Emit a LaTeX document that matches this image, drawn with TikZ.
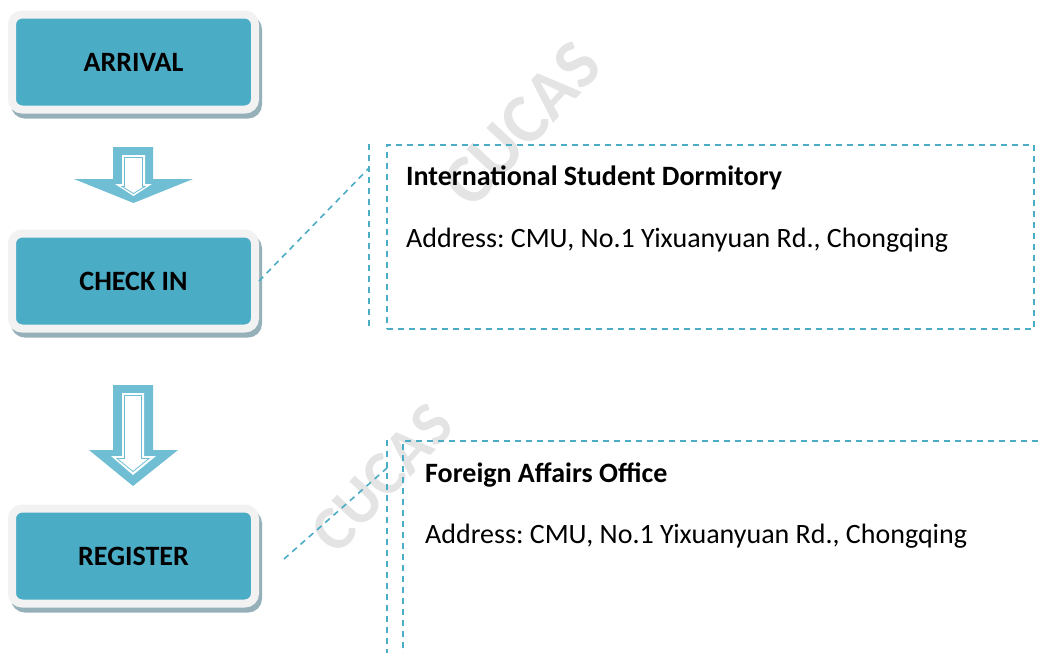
\documentclass[tikz,border=0pt]{standalone}
\usepackage{fontspec}
\setmainfont{Carlito}
\usetikzlibrary{positioning}
\frenchspacing

\definecolor{boxblue}{RGB}{75,172,198}
\definecolor{arrowblue}{RGB}{112,190,211}
\definecolor{framegray}{RGB}{242,242,242}
\definecolor{shadegray}{RGB}{150,176,186}
\definecolor{markgray}{RGB}{228,228,228}

\tikzset{
  stage/.style={rounded corners=10pt, fill=boxblue, draw=framegray, line width=8pt,
    minimum width=243pt, minimum height=95pt, inner sep=0pt,
    text height=18pt, text depth=0pt,
    font=\bfseries\fontsize{28}{32}\selectfont,
    preaction={draw=shadegray, fill=shadegray, line width=8pt,
      transform canvas={shift={(3pt,-5pt)}}}},
  leader/.style={draw=boxblue, line width=1.6pt, dash pattern=on 6pt off 5pt},
  infobox/.style={leader, anchor=north west, inner sep=0pt},
  title/.style={anchor=base west, inner sep=0pt, font=\bfseries\fontsize{28}{32}\selectfont},
  addr/.style={anchor=base west, inner sep=0pt, font=\fontsize{28}{32}\selectfont},
  watermark/.style={text=markgray, inner sep=0pt, rotate=47}
}

\begin{document}
\begin{tikzpicture}[x=1pt,y=-1pt]
    % Canvas
    \useasboundingbox (0,0) rectangle (1038,653);
    % Watermarks
    \node[watermark, font=\bfseries\fontsize{70}{72}\selectfont] (mark1) at (522,124) {CUCAS};
    \node[watermark, font=\bfseries\fontsize{63}{65}\selectfont] (mark2) at (382,478) {CUCAS};
    % Stages
    \node[stage] (arrival)  at (133.5,62)  {ARRIVAL};
    \node[stage] (checkin)  at (133.5,281) {CHECK IN};
    \node[stage] (register) at (133.5,556) {REGISTER};
    % Small arrow
    \fill[arrowblue] (113,147) -- (153,147) -- (153,179) -- (193,179) -- (133.5,203) -- (74,179) -- (113,179) -- cycle;
    \fill[white] (122,155) -- (145,155) -- (145,184) -- (152,184) -- (133.5,196) -- (115,184) -- (122,184) -- cycle;
    \draw[arrowblue,line width=0.8pt] (124.5,157.5) -- (142.5,157.5) -- (142.5,186.5) -- (145,186.5) -- (133.5,193.5) -- (122,186.5) -- (124.5,186.5) -- cycle;
    % Large arrow
    \fill[arrowblue] (113,385) -- (153,385) -- (153,450) -- (178,450) -- (133,486) -- (89,450) -- (113,450) -- cycle;
    \fill[white] (122,393) -- (144,393) -- (144,456) -- (156,456) -- (133,475) -- (111,456) -- (122,456) -- cycle;
    \draw[arrowblue,line width=0.8pt] (124.5,395.5) -- (141.5,395.5) -- (141.5,458.5) -- (149,458.5) -- (133,471.5) -- (117,458.5) -- (124.5,458.5) -- cycle;
    % Dormitory callout
    \node[infobox, minimum width=647pt, minimum height=184pt] (dorm) at (386,144) {};
    \coordinate (dormtop) at (369,144);
    \coordinate (dormbot) at (369,328);
    \coordinate (dormpin) at (369,168);
    \draw[leader] (dormtop) -- (dormbot);
    \draw[leader] (checkin.east) -- (dormpin);
    \node[title] (dormname) at (406,185) {International Student Dormitory};
    \node[addr]  (dormaddr) at (406,247) {Address: CMU, No.1 Yixuanyuan Rd., Chongqing};
    % Foreign affairs callout
    \coordinate (officecorner) at (403,441);
    \coordinate (officetop) at (387,440);
    \coordinate (officebot) at (387,653);
    \coordinate (officepin) at (387,468);
    \draw[leader] (1038,441) -- (officecorner) -- (403,653);
    \draw[leader] (officetop) -- (officebot);
    \draw[leader] ([xshift=25pt,yshift=-3pt]register.east) -- (officepin);
    \node[title] (officename) at (425,482) {Foreign Affairs Office};
    \node[addr]  (officeaddr) at (425,543) {Address: CMU, No.1 Yixuanyuan Rd., Chongqing};
\end{tikzpicture}
\end{document}
